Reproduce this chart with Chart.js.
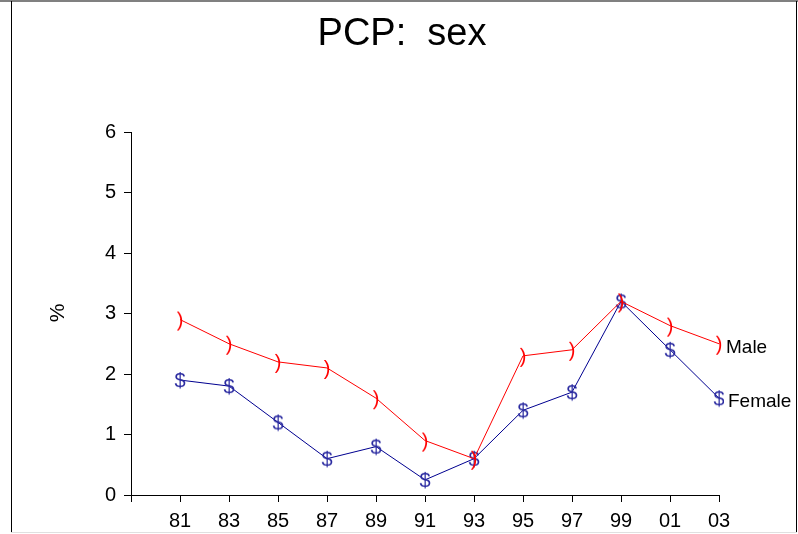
<!DOCTYPE html>
<html>
<head>
<meta charset="utf-8">
<script src="https://cdn.jsdelivr.net/npm/chart.js@4"></script>
<style>
  body { margin: 0; background: #fff; }
  canvas { display: block; }
</style>
</head>
<body>
<canvas id="myChart1" width="798" height="534"></canvas>
<script>
const years = ['81', '83', '85', '87', '89', '91', '93', '95', '97', '99', '01', '03'];
const male = [2.9, 2.5, 2.2, 2.1, 1.6, 0.9, 0.6, 2.3, 2.4, 3.2, 2.8, 2.5];
const female = [1.9, 1.8, 1.2, 0.6, 0.8, 0.25, 0.6, 1.4, 1.7, 3.2, 2.4, 1.6];
const yTicks = [0, 1, 2, 3, 4, 5, 6];

const FONT = "'Liberation Sans', Arial, sans-serif";

// small canvases holding the marker glyphs
function glyph(ch, color) {
    const c = document.createElement('canvas');
    c.width = 24;
    c.height = 28;
    const g = c.getContext('2d');
    g.font = '20px ' + FONT;
    g.fillStyle = color;
    g.textAlign = 'center';
    g.textBaseline = 'middle';
    g.fillText(ch, 12, 15);
    return c;
}

const extras = {
    id: 'extras',
    beforeDraw(chart) {
        const ctx = chart.ctx;
        ctx.save();
        ctx.fillStyle = '#fff';
        ctx.fillRect(0, 0, chart.width, chart.height);
        // frame
        ctx.fillStyle = '#808080';
        ctx.fillRect(0, 0, 798, 2);
        ctx.strokeStyle = '#000';
        ctx.lineWidth = 1;
        ctx.beginPath();
        ctx.moveTo(11.5, 1);
        ctx.lineTo(11.5, 533);
        ctx.moveTo(796.5, 1);
        ctx.lineTo(796.5, 533);
        ctx.stroke();
        ctx.strokeStyle = '#e0e0e0';
        ctx.beginPath();
        ctx.moveTo(11, 532.5);
        ctx.lineTo(797, 532.5);
        ctx.stroke();
        ctx.restore();
    },
    afterDraw(chart) {
        const ctx = chart.ctx;
        ctx.save();
        ctx.fillStyle = '#000';
        ctx.textAlign = 'center';
        ctx.textBaseline = 'alphabetic';
        ctx.font = '38px ' + FONT;
        ctx.fillText('PCP:  sex', 402, 45);

        ctx.font = '21px ' + FONT;
        ctx.save();
        ctx.translate(58, 313);
        ctx.rotate(-Math.PI / 2);
        ctx.textBaseline = 'middle';
        ctx.fillText('%', 0, 0);
        ctx.restore();

        ctx.font = '19px ' + FONT;
        ctx.textAlign = 'left';
        ctx.textBaseline = 'middle';
        const m = chart.getDatasetMeta(0).data[years.length];
        const f = chart.getDatasetMeta(1).data[years.length];
        ctx.fillText('Male', m.x + 7, m.y + 4);
        ctx.fillText('Female', f.x + 9, f.y + 4);
        ctx.restore();
    }
};

const data = {
    labels: [''].concat(years),
    datasets: [
        {
            label: 'Male',
            data: [null].concat(male),
            borderColor: '#ff0000',
            borderWidth: 1,
            tension: 0,
            pointStyle: glyph(')', '#ff0000')
        },
        {
            label: 'Female',
            data: [null].concat(female),
            borderColor: '#000090',
            borderWidth: 1,
            tension: 0,
            pointStyle: glyph('$', '#2a2aa0')
        }
    ]
};

const axisGrid = {
    drawOnChartArea: false,
    drawTicks: true,
    tickLength: 7,
    color: '#000'
};

new Chart(document.getElementById('myChart1').getContext('2d'), {
    type: 'line',
    data: data,
    options: {
        responsive: false,
        animation: false,
        layout: { padding: { top: 132, right: 79, left: 0, bottom: 0 } },
        plugins: { legend: { display: false }, tooltip: { enabled: false }, title: { display: false } },
        scales: {
            x: {
                offset: false,
                grid: axisGrid,
                border: { display: true, color: '#000', width: 1 },
                ticks: { color: '#000', font: { family: FONT, size: 20 }, padding: 7, maxRotation: 0, autoSkip: false },
                afterFit(scale) { scale.height = 39; }
            },
            y: {
                min: yTicks[0],
                max: yTicks[yTicks.length - 1],
                grid: axisGrid,
                border: { display: true, color: '#000', width: 1 },
                ticks: { stepSize: 1, color: '#000', font: { family: FONT, size: 20 }, padding: 8 },
                afterFit(scale) { scale.width = 131; }
            }
        }
    },
    plugins: [extras]
});
</script>
</body>
</html>
